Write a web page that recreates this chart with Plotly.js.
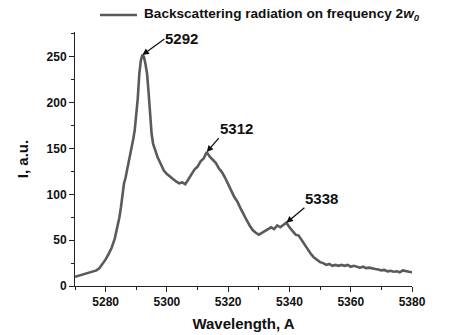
<!DOCTYPE html>
<html>
<head>
<meta charset="utf-8">
<script src="https://cdn.plot.ly/plotly-3.0.1.min.js"></script>
<style>html,body{margin:0;padding:0;background:#fff;}#chart{width:452px;height:335px;}</style>
</head>
<body>
<div id="chart"></div>
<script>
const wavelength = [
  5270, 5271, 5272, 5273, 5274, 5275, 5276, 5277, 5278, 5279,
  5280, 5281, 5282, 5283, 5284, 5284.5, 5285, 5285.5, 5286, 5286.5,
  5287, 5287.5, 5288, 5288.5, 5289, 5289.5, 5290, 5290.5, 5291, 5291.5,
  5292, 5292.5, 5293, 5293.5, 5294, 5294.5, 5295, 5295.5, 5296, 5296.5,
  5297, 5298, 5299, 5300, 5301, 5302, 5303, 5304, 5305, 5306,
  5307, 5308, 5309, 5310, 5311, 5312, 5313, 5314, 5315, 5316,
  5317, 5318, 5319, 5320, 5321, 5322, 5323, 5324, 5325, 5326,
  5327, 5328, 5329, 5330, 5331, 5332, 5333, 5334, 5335, 5336,
  5337, 5338, 5339, 5340, 5341, 5342, 5343, 5344, 5345, 5346,
  5347, 5348, 5349, 5350, 5351, 5352, 5353, 5354, 5355, 5356,
  5357, 5358, 5359, 5360, 5361, 5362, 5363, 5364, 5365, 5366,
  5367, 5368, 5369, 5370, 5371, 5372, 5373, 5374, 5375, 5376,
  5377, 5378, 5379, 5380
];
const intensity = [
  10, 11, 12, 12.5, 13.5, 14.5, 15.5, 17, 19.5, 24,
  29, 35, 42, 52, 67, 75, 86, 100, 112, 118,
  126, 132, 142, 152, 160, 170, 186, 205, 232, 246,
  252, 250, 242, 232, 212, 186, 166, 155, 150, 145,
  140, 133, 126, 122, 119, 117, 114, 112, 113, 111,
  116, 121, 127, 130, 136, 139, 146, 141, 137, 134,
  128, 124, 118, 110, 104, 97, 92, 85, 78, 72,
  66, 61, 58, 56, 58, 60, 62, 64, 62, 66,
  64, 67, 69, 64, 60, 56, 55, 50, 44, 40,
  35, 31, 28, 26, 25, 23, 24, 22, 23, 22,
  23, 22, 23, 21, 22, 21, 20, 21, 19.5, 20,
  19, 18.5, 18, 17, 17.5, 16, 16.5, 15.5, 16, 15,
  17, 16, 15.5, 15
];
const xTickVals = [5280, 5300, 5320, 5340, 5360, 5380];
const yTickVals = [0, 50, 100, 150, 200, 250];
const peakLabels = ['5292', '5312', '5338'];
const seriesName = 'Backscattering radiation on frequency 2<i>w<sub>0</sub></i>';
const xTitle = 'Wavelength, A';
const yTitle = 'I, a.u.';
const FONT = 'Liberation Sans, Arial, sans-serif';

function peakPoint(lbl) {
  const c = parseFloat(lbl);
  let bi = -1;
  for (let i = 0; i < wavelength.length; i++) {
    if (Math.abs(wavelength[i] - c) <= 1.5 && (bi < 0 || intensity[i] > intensity[bi])) bi = i;
  }
  return {x: wavelength[bi], y: intensity[bi]};
}
const labelStyle = [
  {ax: 22, ay: -16, yanchor: 'middle'},
  {ax: 12, ay: -14, yanchor: 'bottom'},
  {ax: 18, ay: -15, yanchor: 'bottom'}
];
const annotations = [];
peakLabels.forEach((lbl, k) => {
  const p = peakPoint(lbl);
  annotations.push({x: p.x, y: p.y, xref: 'x', yref: 'y', text: '<b>' + lbl + '</b>',
    showarrow: true, arrowhead: 2, arrowsize: 1, arrowwidth: 1.3, arrowcolor: '#111',
    axref: 'pixel', ayref: 'pixel', ax: labelStyle[k].ax, ay: labelStyle[k].ay, standoff: 0,
    xanchor: 'left', yanchor: labelStyle[k].yanchor, borderpad: 0,
    font: {family: FONT, size: 15, color: '#111'}});
});
// legend entry
annotations.push({xref: 'paper', yref: 'paper', x: 0.1988, y: 1.067, xanchor: 'left', yanchor: 'middle',
  showarrow: false, text: '<b>' + seriesName + '</b>', font: {family: FONT, size: 13.6, color: '#111'}});
const shapes = [{type: 'line', xref: 'paper', yref: 'paper', x0: 0.0742, x1: 0.184, y0: 1.067, y1: 1.067,
  line: {color: '#5a5a5a', width: 2.6}}];

const axisCommon = {
  showline: true, linecolor: '#222', linewidth: 1, mirror: false,
  ticks: 'outside', ticklen: 5, tickwidth: 1, tickcolor: '#222',
  showgrid: false, zeroline: false, tickmode: 'array',
  tickfont: {family: FONT, size: 12, color: '#111', weight: 'bold'},
};

Plotly.newPlot('chart', [{
  x: wavelength, y: intensity, type: 'scatter', mode: 'lines', name: seriesName,
  line: {color: '#5a5a5a', width: 2.6}
}], {
  width: 452, height: 335,
  margin: {l: 75, r: 40, t: 32, b: 49},
  paper_bgcolor: '#fff', plot_bgcolor: '#fff',
  showlegend: false,
  xaxis: Object.assign({}, axisCommon, {
    range: [5270, 5380], tickvals: xTickVals, ticktext: xTickVals.map(v => '<b>' + v + '</b>'),
    minor: {dtick: 10, tick0: 5270, ticks: 'outside', ticklen: 3, tickcolor: '#222'},
    title: {text: xTitle, standoff: 10, font: {family: FONT, size: 15, color: '#111', weight: 'bold'}}
  }),
  yaxis: Object.assign({}, axisCommon, {
    range: [0, 277], tickvals: yTickVals, ticktext: yTickVals.map(v => '<b>' + v + '</b>'),
    minor: {dtick: 25, tick0: 0, ticks: 'outside', ticklen: 3, tickcolor: '#222'},
    title: {text: yTitle, standoff: 14, font: {family: FONT, size: 15, color: '#111', weight: 'bold'}}
  }),
  annotations: annotations,
  shapes: shapes
}, {staticPlot: true, displayModeBar: false});
</script>
</body>
</html>
